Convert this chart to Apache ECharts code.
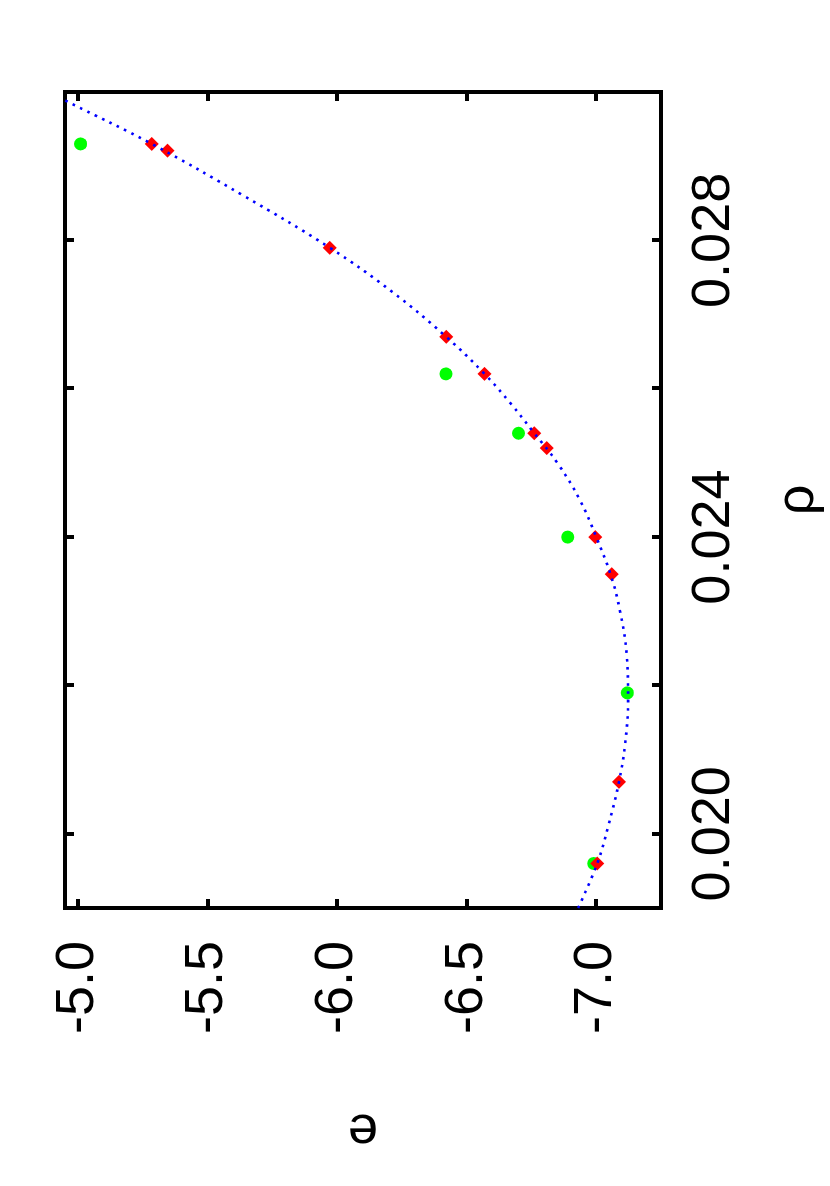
<!DOCTYPE html>
<html>
<head>
<meta charset="utf-8">
<script src="https://cdn.jsdelivr.net/npm/echarts@6/dist/echarts.min.js"></script>
<style>
html,body{margin:0;padding:0;background:#fff;}
#wrap{position:absolute;left:0;top:0;width:830px;height:1186px;overflow:hidden;background:#fff;}
#chart{position:absolute;left:0;top:0;width:1186px;height:830px;transform-origin:0 0;transform:translate(0px,1186px) rotate(-90deg);}
</style>
</head>
<body>
<div id="wrap"><div id="chart"></div></div>
<script>
// Data (x = rho, y = e)
const greenRho = [0.0293, 0.0262, 0.0254, 0.0240, 0.0219, 0.0196];
const greenE   = [-5.01, -6.42, -6.70, -6.89, -7.12, -6.99];

const redRho = [0.0293, 0.02921, 0.0279, 0.0267, 0.0262, 0.0254, 0.0252, 0.0240, 0.0235, 0.0207, 0.0196];
const redE   = [-5.285, -5.346, -5.972, -6.421, -6.569, -6.761, -6.809, -6.996, -7.060, -7.088, -7.004];

// dotted fit curve
const fitRho = [0.0190, 0.0196, 0.0201, 0.0207, 0.0212, 0.0218, 0.0224, 0.0230, 0.0235, 0.0240, 0.0245, 0.0250, 0.0254, 0.0258, 0.0262, 0.0267, 0.0273, 0.0279, 0.0286, 0.0293, 0.02984, 0.0300];
const fitE   = [-6.930, -7.004, -7.046, -7.088, -7.111, -7.123, -7.118, -7.092, -7.055, -7.000, -6.937, -6.850, -6.761, -6.670, -6.569, -6.421, -6.215, -5.972, -5.640, -5.285, -4.977, -4.885];

const rhoTicks  = [0.020, 0.022, 0.024, 0.026, 0.028];
const rhoLabels = [0.020, 0.024, 0.028];
const eTicks    = [-5.0, -5.5, -6.0, -6.5, -7.0];

const rhoMin = 0.019, rhoMax = 0.030;
const eMin = -7.25, eMax = -4.95;

const zip = (a, b) => a.map((v, i) => [v, b[i]]);
const FONT = '"Liberation Sans", Arial, Helvetica, sans-serif';

const axisLineStyle = { color: '#000', width: 4, cap: 'square' };
const tickStyle = { show: true, inside: true, length: 9, lineStyle: { color: '#000', width: 4 } };

const chart = echarts.init(document.getElementById('chart'), null, { renderer: 'canvas' });
chart.setOption({
  animation: false,
  backgroundColor: '#fff',
  grid: { left: 278, right: 92, top: 65, bottom: 163, containLabel: false },
  xAxis: [
    {
      type: 'value', position: 'bottom', min: rhoMin, max: rhoMax,
      name: 'ρ', nameLocation: 'middle', nameGap: 110,
      nameTextStyle: { fontSize: 54, fontFamily: FONT, color: '#000' },
      axisLine: { show: true, onZero: false, lineStyle: axisLineStyle },
      axisTick: Object.assign({ customValues: rhoTicks }, tickStyle),
      axisLabel: { customValues: rhoLabels, margin: 26, fontSize: 54, fontFamily: FONT, color: '#000',
        formatter: v => v.toFixed(3) },
      splitLine: { show: false }
    },
    {
      type: 'value', position: 'top', min: rhoMin, max: rhoMax,
      axisLine: { show: true, onZero: false, lineStyle: axisLineStyle },
      axisTick: Object.assign({ customValues: rhoTicks }, tickStyle),
      axisLabel: { show: false },
      splitLine: { show: false }
    }
  ],
  yAxis: [
    {
      type: 'value', position: 'left', min: eMin, max: eMax,
      name: 'e', nameLocation: 'middle', nameGap: 195, nameRotate: 90,
      nameTextStyle: { fontSize: 54, fontFamily: FONT, color: '#000' },
      axisLine: { show: true, onZero: false, lineStyle: axisLineStyle },
      axisTick: Object.assign({ customValues: eTicks }, tickStyle),
      axisLabel: { customValues: eTicks, margin: 33, fontSize: 54, fontFamily: FONT, color: '#000',
        formatter: v => v.toFixed(1) },
      splitLine: { show: false }
    },
    {
      type: 'value', position: 'right', min: eMin, max: eMax,
      axisLine: { show: true, onZero: false, lineStyle: axisLineStyle },
      axisTick: Object.assign({ customValues: eTicks }, tickStyle),
      axisLabel: { show: false },
      splitLine: { show: false }
    }
  ],
  series: [
    {
      type: 'scatter', xAxisIndex: 0, yAxisIndex: 0,
      data: zip(greenRho, greenE),
      symbol: 'circle', symbolSize: 13,
      itemStyle: { color: '#00ff00', opacity: 1 }
    },
    {
      type: 'scatter', xAxisIndex: 0, yAxisIndex: 0,
      data: zip(redRho, redE),
      symbol: 'diamond', symbolSize: 14,
      itemStyle: { color: '#ff0000', opacity: 1 }
    },
    {
      type: 'line', xAxisIndex: 0, yAxisIndex: 0,
      data: zip(fitRho, fitE),
      showSymbol: false, smooth: 0.4, clip: true,
      lineStyle: { color: '#0000ff', width: 2.6, type: [2.6, 5.6] },
      z: 5
    }
  ]
});
</script>
</body>
</html>
